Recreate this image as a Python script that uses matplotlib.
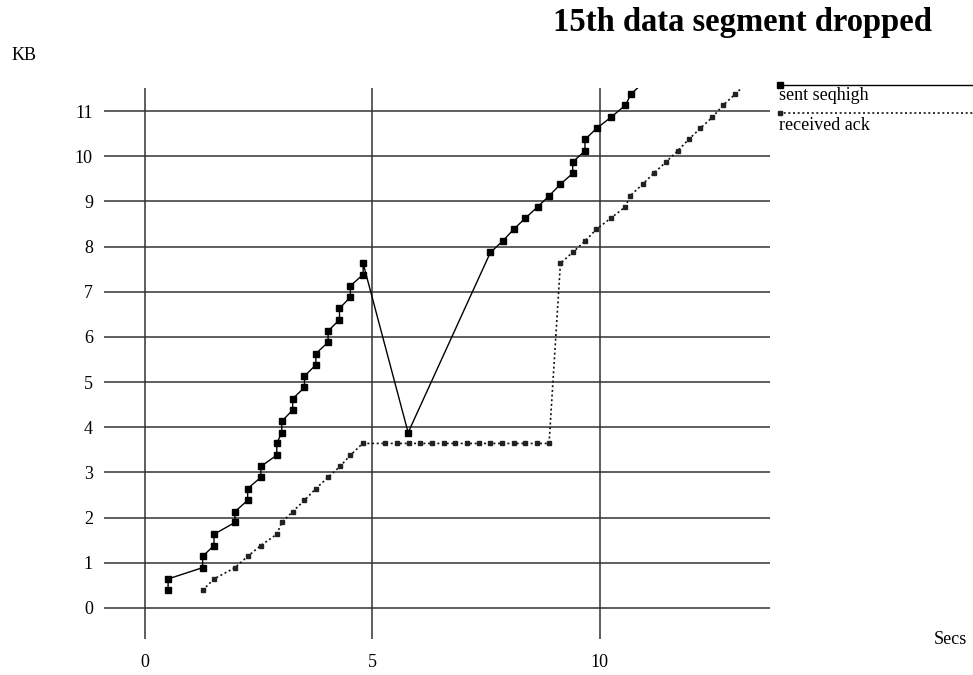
import matplotlib
matplotlib.use("Agg")
import matplotlib.pyplot as plt
from matplotlib.lines import Line2D

# Highest sequence number sent (KB) over time (s)
sent_t = [0.51, 0.51, 1.27, 1.27, 1.52, 1.52, 1.98, 1.98, 2.26, 2.26,
          2.55, 2.55, 2.90, 2.90, 3.01, 3.01, 3.25, 3.25, 3.51, 3.51,
          3.76, 3.76, 4.03, 4.03, 4.28, 4.28, 4.52, 4.52, 4.80, 4.80,
          5.79, 7.60, 7.87, 8.11, 8.37, 8.64, 8.89, 9.14, 9.41, 9.41,
          9.68, 9.68, 9.94, 10.25, 10.57, 10.69, 10.95]
sent_kb = [0.39, 0.64, 0.89, 1.14, 1.38, 1.63, 1.89, 2.13, 2.38, 2.64,
           2.89, 3.13, 3.38, 3.64, 3.88, 4.13, 4.38, 4.63, 4.88, 5.13,
           5.38, 5.63, 5.88, 6.13, 6.38, 6.63, 6.88, 7.13, 7.38, 7.63,
           3.88, 7.87, 8.12, 8.38, 8.63, 8.88, 9.12, 9.38, 9.62, 9.87,
           10.12, 10.37, 10.62, 10.86, 11.13, 11.37, 11.62]

# Cumulative acknowledgements received (KB) over time (s)
ack_t = [1.27, 1.52, 1.98, 2.26, 2.55, 2.90, 3.01, 3.25, 3.51, 3.76,
         4.03, 4.29, 4.52, 4.79, 5.29, 5.55, 5.81, 6.06, 6.32, 6.58,
         6.83, 7.09, 7.35, 7.60, 7.86, 8.12, 8.37, 8.63, 8.89, 9.14,
         9.41, 9.68, 9.93, 10.25, 10.57, 10.67, 10.95, 11.19, 11.46, 11.72,
         11.96, 12.22, 12.48, 12.72, 12.98, 13.24]
ack_kb = [0.39, 0.64, 0.89, 1.14, 1.38, 1.63, 1.89, 2.13, 2.38, 2.64,
          2.89, 3.13, 3.38, 3.64, 3.64, 3.64, 3.64, 3.64, 3.64, 3.64,
          3.64, 3.64, 3.64, 3.64, 3.64, 3.64, 3.64, 3.64, 3.64, 7.63,
          7.87, 8.12, 8.38, 8.63, 8.88, 9.12, 9.38, 9.62, 9.87, 10.12,
          10.37, 10.62, 10.86, 11.13, 11.37, 11.62]

x_ticks = [0, 5, 10]
y_ticks = list(range(12))

SERIF = ["Liberation Serif", "DejaVu Serif"]
plt.rcParams["font.family"] = SERIF
LABEL_SIZE = 13

W, H = 973, 675
fig = plt.figure(figsize=(W / 100, H / 100), dpi=100)
fig.patch.set_facecolor("white")

# axes box in pixels: left 104, right 770, top 88, bottom 639
ax = fig.add_axes([104 / W, 1 - 639 / H, (770 - 104) / W, (639 - 88) / H])
ax.set_xlim(-0.90, 13.75)
ax.set_ylim(-0.69, 11.51)
for s in ax.spines.values():
    s.set_visible(False)

ax.set_xticks(x_ticks)
ax.set_yticks(y_ticks)
ax.set_xticklabels([str(v) for v in x_ticks])
ax.set_yticklabels([str(v) for v in y_ticks])
ax.tick_params(axis="both", length=0, labelsize=LABEL_SIZE, colors="black")
ax.tick_params(axis="x", pad=10.5)
ax.tick_params(axis="y", pad=8.0)
ax.grid(True, color="#333333", linewidth=1.1)
ax.set_axisbelow(True)

ax.plot(sent_t, sent_kb, color="black", linewidth=1.0, marker="s",
        markersize=3.7, markerfacecolor="black", markeredgecolor="black",
        zorder=3)
ax.plot(ack_t, ack_kb, color="#111111", linewidth=1.2,
        linestyle=(0, (1.2, 1.6)), marker="s", markersize=3.3,
        markerfacecolor="#222222", markeredgecolor="#222222", zorder=3)

# Legend drawn at the right edge of the figure
def fx(px):
    return px / W

def fy(py):
    return 1 - py / H

fig.add_artist(Line2D([fx(779), fx(973)], [fy(85), fy(85)], color="black",
                      linewidth=1.0, transform=fig.transFigure))
fig.add_artist(Line2D([fx(780)], [fy(85)], color="black", marker="s",
                      markersize=3.7, transform=fig.transFigure))
fig.add_artist(Line2D([fx(779), fx(973)], [fy(113), fy(113)], color="#111111",
                      linewidth=1.2, linestyle=(0, (1.2, 1.6)),
                      transform=fig.transFigure))
fig.add_artist(Line2D([fx(780)], [fy(113)], color="#222222", marker="s",
                      markersize=3.3, transform=fig.transFigure))
fig.text(fx(779), fy(96), "sent seqhigh", fontsize=LABEL_SIZE, ha="left",
         va="center")
fig.text(fx(779), fy(126), "received ack", fontsize=LABEL_SIZE, ha="left",
         va="center")

fig.text(fx(553), fy(31), "15th data segment dropped", fontsize=23.5,
         fontweight="bold", ha="left", va="baseline")
fig.text(fx(12), fy(55), "KB", fontsize=LABEL_SIZE, ha="left", va="center")
fig.text(fx(934), fy(640), "Secs", fontsize=LABEL_SIZE, ha="left",
         va="center")

fig.savefig("out.png", dpi=100, facecolor="white")
